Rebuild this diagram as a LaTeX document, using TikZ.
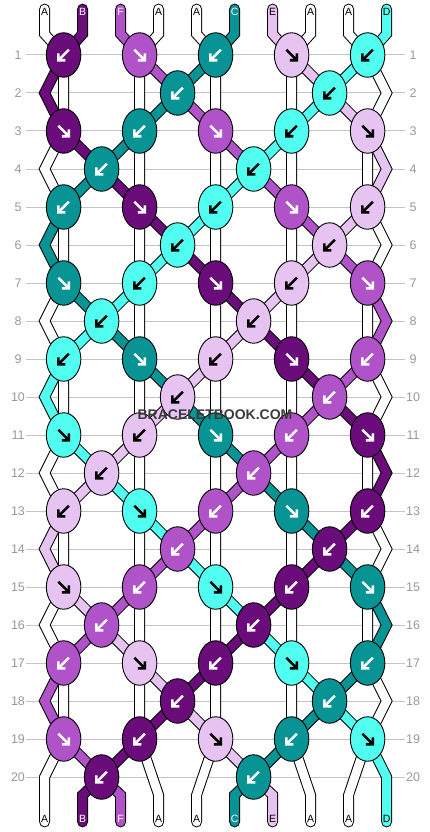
\documentclass[tikz,border=0pt]{standalone}
\usepackage{fontspec}
\setmainfont{Liberation Sans}
\usetikzlibrary{shapes.geometric}
\definecolor{colA}{HTML}{FFFFFF}
\definecolor{colB}{HTML}{6A0D7A}
\definecolor{colF}{HTML}{B052C8}
\definecolor{colC}{HTML}{089494}
\definecolor{colE}{HTML}{E6C3F0}
\definecolor{colD}{HTML}{50FFF0}
\colorlet{arrA}{black}
\colorlet{arrB}{white}
\colorlet{arrF}{white}
\colorlet{arrC}{white}
\colorlet{arrE}{black}
\colorlet{arrD}{black}
\definecolor{gridgray}{HTML}{C4C4C4}
\definecolor{numgray}{HTML}{989898}
\definecolor{wmgray}{HTML}{3A3A3A}
\tikzset{
  strand/.style={line width=1pt,double=#1,double distance=8.8pt,line cap=round,line join=miter},
  knot/.style={ellipse,draw=black,line width=0.9pt,minimum width=34.5pt,minimum height=44.5pt,inner sep=0pt},
  knotarrow/.style={line width=2.6pt,line cap=butt,line join=miter},
  rownum/.style={text=numgray,font=\fontsize{12.5}{14}\selectfont,inner sep=0pt},
  strlabel/.style={font=\fontsize{10.5}{12}\selectfont,inner sep=0pt},
  wmark/.style={font=\bfseries\fontsize{14}{16}\selectfont,inner sep=0pt}
}
\begin{document}
\begin{tikzpicture}[x=1pt,y=-1pt,line join=miter]
\useasboundingbox (0,0) rectangle (430,832);
\foreach \row in {1,...,20}{
  \draw[gridgray,line width=1pt] (26,{55+38*(\row-1)}) -- (405,{55+38*(\row-1)});
  \node[rownum] (ln\row) at (18,{55+38*(\row-1)}) {\row};
  \node[rownum] (rn\row) at (413,{55+38*(\row-1)}) {\row};
}
\foreach \n in {0,...,9}{
  \coordinate (t\n) at ({44.6+38*\n},9);
  \coordinate (tb\n) at ({44.6+38*\n},34);
  \coordinate (bb\n) at ({44.6+38*\n},795);
  \coordinate (b\n) at ({44.6+38*\n},822);
}
\foreach \row in {2,4,...,20}{
  \coordinate (L\row) at (44.6,{55+38*(\row-1)});
  \coordinate (R\row) at (386.6,{55+38*(\row-1)});
}
\foreach \row in {1,...,20}
  \foreach \p in {0,...,8}
    \coordinate (k\row-\p) at ({63.6+38*\p},{55+38*(\row-1)});
% white strings
\draw[strand=colA] (t0) -- (tb0) \foreach \row [evaluate=\row as \rb using int(\row+2),evaluate=\row as \rc using int(\row+3)] in {1,5,9,13,17} { -- (k\row-0) -- (k\rb-0) -- (L\rc) } -- (b0);
\draw[strand=colA] (t3) -- (tb3) -- (k1-2) -- (k19-2) -- (bb3) -- (b3);
\draw[strand=colA] (t4) -- (tb4) -- (k1-4) -- (k19-4) -- (bb4) -- (b4);
\draw[strand=colA] (t7) -- (tb7) -- (k1-6) -- (k19-6) -- (bb7) -- (b7);
\draw[strand=colA] (t8) -- (tb8) \foreach \row [evaluate=\row as \rb using int(\row+1),evaluate=\row as \rc using int(\row+2)] in {1,5,9,13,17} { -- (k\row-8) -- (R\rb) -- (k\rc-8) } -- (bb8) -- (b8);
% coloured strings
\draw[strand=colB] (t1) \foreach \q in {tb1,k1-0,L2,k3-0,k4-1,k5-2,k6-3,k7-4,k8-5,k9-6,k10-7,k11-8,R12,k13-8,k14-7,k15-6,k16-5,k17-4,k18-3,k19-2,k20-1,bb1,b1} { -- (\q) };
\draw[strand=colF] (t2) \foreach \q in {tb2,k1-2,k2-3,k3-4,k4-5,k5-6,k6-7,k7-8,R8,k9-8,k10-7,k11-6,k12-5,k13-4,k14-3,k15-2,k16-1,k17-0,L18,k19-0,k20-1,bb2,b2} { -- (\q) };
\draw[strand=colC] (t5) \foreach \q in {tb5,k1-4,k2-3,k3-2,k4-1,k5-0,L6,k7-0,k8-1,k9-2,k10-3,k11-4,k12-5,k13-6,k14-7,k15-8,R16,k17-8,k18-7,k19-6,k20-5,bb5,b5} { -- (\q) };
\draw[strand=colE] (t6) \foreach \q in {tb6,k1-6,k2-7,k3-8,R4,k5-8,k6-7,k7-6,k8-5,k9-4,k10-3,k11-2,k12-1,k13-0,L14,k15-0,k16-1,k17-2,k18-3,k19-4,k20-5,bb6,b6} { -- (\q) };
\draw[strand=colD] (t9) \foreach \q in {tb9,k1-8,k2-7,k3-6,k4-5,k5-4,k6-3,k7-2,k8-1,k9-0,L10,k11-0,k12-1,k13-2,k14-3,k15-4,k16-5,k17-6,k18-7,k19-8,R20,bb9,b9} { -- (\q) };
% knots
\foreach \row/\cols in {1/{B,F,C,E,D},2/{C,D},3/{B,C,F,D,E},4/{C,D},5/{C,B,D,F,E},6/{D,E},7/{C,D,B,E,F},8/{D,E},9/{D,C,E,B,F},10/{E,F},11/{D,E,C,F,B},12/{E,F},13/{E,D,F,C,B},14/{F,B},15/{E,F,D,B,C},16/{F,B},17/{F,E,B,D,C},18/{B,C},19/{F,B,E,C,D},20/{B,C}}{
  \foreach \kc [count=\n from 0] in \cols {
    \pgfmathtruncatemacro{\p}{isodd(\row) ? 2*\n : 4*\n+1+mod(\row,4)}
    \pgfmathtruncatemacro{\dir}{isodd(\row) ? mod((\row-1)/2+\p/2,2) : 0}
    \node[knot,fill=col\kc] (n\row-\p) at (k\row-\p) {};
    \ifnum\dir=0
      \draw[knotarrow,color=arr\kc] (k\row-\p) ++(5.3,-5.3) -- ++(-10.6,10.6) ++(0,-7) -- ++(0,7) -- ++(7,0);
    \else
      \draw[knotarrow,color=arr\kc] (k\row-\p) ++(-5.3,-5.3) -- ++(10.6,10.6) ++(0,-7) -- ++(0,7) -- ++(-7,0);
    \fi
  }
}
\foreach \n/\lab in {0/A,1/B,2/F,3/A,4/A,5/C,6/E,7/A,8/A,9/D}{
  \node[strlabel,text=arr\lab] (top\n) at ({44.6+38*\n},12) {\lab};
  \node[strlabel,text=arr\lab] (bot\n) at ({44.6+38*\n},819) {\lab};
}
\node[wmark,text=wmgray] (wm) at (215,415) {BRACELETBOOK.COM};
\end{tikzpicture}
\end{document}
